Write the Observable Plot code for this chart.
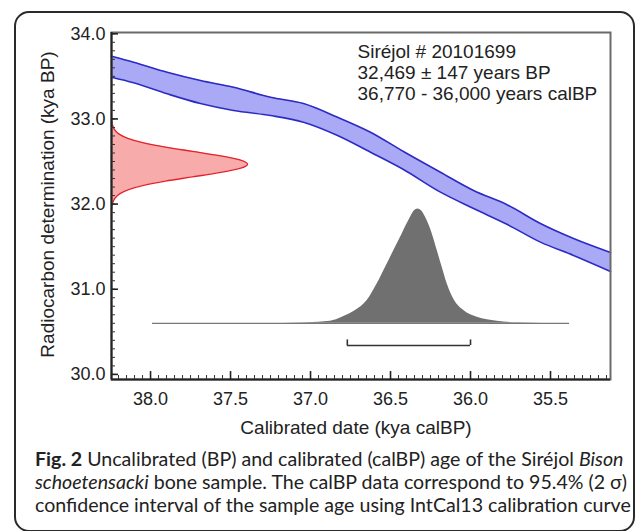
<!DOCTYPE html>
<html><head><meta charset="utf-8">
<script src="https://cdn.jsdelivr.net/npm/d3@7"></script>
<script src="https://cdn.jsdelivr.net/npm/@observablehq/plot@0.6"></script>
<style>
html,body{margin:0;padding:0;background:#fff;}
#wrap{position:relative;width:636px;height:531px;overflow:hidden;}
#box{position:absolute;left:14px;top:11px;width:621px;height:521px;border:2px solid #2a2a2a;border-radius:15px;box-sizing:border-box;}
#chart{position:absolute;left:0;top:0;}
#caption{position:absolute;left:35px;top:447px;font-family:Lato,'Open Sans',sans-serif;font-size:19.6px;line-height:23px;color:#222;white-space:nowrap;}
</style>
</head><body>
<div id="wrap"><div id="box"></div><div id="chart"></div>
<div id="caption"><b>Fig. 2</b> Uncalibrated (BP) and calibrated (calBP) age of the Siréjol <i>Bison</i><br><i>schoetensacki</i> bone sample. The calBP data correspond to 95.4% (2 σ)<br>confidence interval of the sample age using IntCal13 calibration curve</div>
</div>
<script>
// Axis set-up
const xDomain = [38.244, 35.125];
const yDomain = [29.94, 34.015];
const xMajor = [38.0, 37.5, 37.0, 36.5, 36.0, 35.5];
const yMajor = [30.0, 31.0, 32.0, 33.0, 34.0];
const xMinor = d3.range(35.15, 38.24, 0.05);
const yMinor = d3.range(30.0, 34.01, 0.1);
const xTitle = "Calibrated date (kya calBP)";
const yTitle = "Radiocarbon determination (kya BP)";
const annotation = ["Siréjol # 20101699", "32,469 ± 147 years BP", "36,770 - 36,000 years calBP"];

// IntCal13 calibration band (kya calBP vs kya BP)
const calX     = [38.244, 38.106, 37.896, 37.688, 37.481, 37.25, 37.044, 36.831, 36.625, 36.419, 36.188, 35.981, 35.769, 35.563, 35.356, 35.125];
const calUpper = [33.736, 33.666, 33.548, 33.451, 33.372, 33.255, 33.181, 33.02, 32.844, 32.617, 32.374, 32.16, 31.99, 31.772, 31.596, 31.432];
const calLower = [33.489, 33.424, 33.295, 33.181, 33.099, 33.04, 32.961, 32.805, 32.609, 32.406, 32.14, 31.948, 31.76, 31.553, 31.397, 31.209];

// Radiocarbon measurement distribution (kya BP vs relative probability)
const radioY = [32.999, 32.919, 32.869, 32.819, 32.769, 32.719, 32.669, 32.619, 32.569, 32.519, 32.469, 32.419, 32.369, 32.319, 32.269, 32.219, 32.169, 32.119, 32.069, 32.019, 31.939];
const radioP = [0.0, 0.009, 0.025, 0.059, 0.125, 0.236, 0.396, 0.594, 0.793, 0.944, 1.0, 0.944, 0.793, 0.594, 0.396, 0.236, 0.125, 0.059, 0.025, 0.009, 0.0];
const radioBase = 38.244;   // kya calBP at the y axis
const radioPeak = 37.394;   // kya calBP reached at the peak

// Calibrated date distribution (kya calBP vs height above baseline, kya BP units)
const calDateX = [37.988, 37.25, 37.1, 36.95, 36.875, 36.802, 36.719, 36.646, 36.583, 36.531, 36.479, 36.427, 36.375, 36.352, 36.329, 36.305, 36.281, 36.239, 36.208, 36.177, 36.146, 36.1, 36.042, 35.958, 35.833, 35.7, 35.55, 35.381];
const calDateH = [0, 0, 0.003, 0.012, 0.023, 0.07, 0.149, 0.267, 0.463, 0.658, 0.854, 1.05, 1.245, 1.318, 1.343, 1.318, 1.245, 1.05, 0.854, 0.658, 0.463, 0.267, 0.149, 0.07, 0.023, 0.005, 0, 0];
const calDateBase = 30.6;

// 95.4% range bracket
const calRange = [36.77, 36.0];
const bracketY = 30.339;
const bracketTop = 30.405;

const cal = calX.map((x, i) => ({x, hi: calUpper[i], lo: calLower[i]}));
const radio = radioY.map((y, i) => ({y, x: radioBase - radioP[i] * (radioBase - radioPeak)}));
const calDate = calDateX.map((x, i) => ({x, y: calDateBase + calDateH[i]}));

const chart = Plot.plot({
  width: 636, height: 440,
  marginLeft: 111, marginRight: 26, marginTop: 32, marginBottom: 61,
  style: {fontFamily: "'Liberation Sans', Arial, sans-serif", fontSize: "18px", color: "#222", background: "transparent", overflow: "visible"},
  x: {domain: xDomain, axis: null},
  y: {domain: yDomain, axis: null},
  marks: [
    Plot.areaY(cal, {x: "x", y1: "lo", y2: "hi", fill: "#a9a9f6", curve: "monotone-x"}),
    Plot.line(cal, {x: "x", y: "hi", stroke: "#2b2bc4", strokeWidth: 1.6, curve: "monotone-x"}),
    Plot.line(cal, {x: "x", y: "lo", stroke: "#2b2bc4", strokeWidth: 1.6, curve: "monotone-x"}),
    Plot.areaX(radio, {y: "y", x1: radioBase, x2: "x", fill: "#f7abab", curve: "monotone-y"}),
    Plot.line(radio, {x: "x", y: "y", stroke: "#e4222a", strokeWidth: 1.4, curve: "monotone-y"}),
    Plot.ruleY([calDateBase], {x1: calDateX[0], x2: calDateX[calDateX.length - 1], stroke: "#777", strokeWidth: 1.2}),
    Plot.areaY(calDate, {x: "x", y1: calDateBase, y2: "y", fill: "#707070", curve: "monotone-x"}),
    Plot.ruleY([bracketY], {x1: calRange[0], x2: calRange[1], stroke: "#333", strokeWidth: 1.6}),
    Plot.ruleX(calRange, {y1: bracketY, y2: bracketTop, stroke: "#333", strokeWidth: 1.6}),
    Plot.frame({stroke: "#6a6a6a", strokeWidth: 2}),
    Plot.ruleX([xDomain[0]], {stroke: "#222", strokeWidth: 2}),
    Plot.ruleY([yDomain[0]], {stroke: "#222", strokeWidth: 2}),
    Plot.axisX(xMinor, {anchor: "bottom", tickSize: -4, tickFormat: () => "", label: null, stroke: "#333"}),
    Plot.axisX(xMajor, {anchor: "bottom", tickSize: -8, tickFormat: () => "", label: null, stroke: "#222", strokeWidth: 1.6}),
    Plot.axisX(xMajor, {anchor: "bottom", tickSize: 0, tickPadding: 12.5, tickFormat: d3.format(".1f"), label: null, fontSize: 18, fill: "#222"}),
    Plot.axisY(yMinor, {anchor: "left", tickSize: -4, tickFormat: () => "", label: null, stroke: "#333"}),
    Plot.axisY(yMajor, {anchor: "left", tickSize: -7, tickFormat: () => "", label: null, stroke: "#222", strokeWidth: 1.6}),
    Plot.axisY(yMajor, {anchor: "left", tickSize: 0, tickPadding: 6, tickFormat: d3.format(".1f"), label: null, fontSize: 18, fill: "#222"}),
    Plot.text([xTitle], {text: d => d, frameAnchor: "bottom", dx: -5, dy: 54, lineAnchor: "bottom", fontSize: 19, fill: "#222"}),
    Plot.text([yTitle], {text: d => d, frameAnchor: "left", textAnchor: "middle", rotate: -90, dx: -63.5, dy: -1.5, fontSize: 19, fill: "#222"}),
    Plot.text([annotation.join("\n")], {text: d => d, frameAnchor: "top-left", textAnchor: "start", lineAnchor: "top", dx: 246, dy: 11, fontSize: 19, lineHeight: 21 / 19, fill: "#222"})
  ]
});
document.getElementById("chart").appendChild(chart);
</script>
</body></html>
